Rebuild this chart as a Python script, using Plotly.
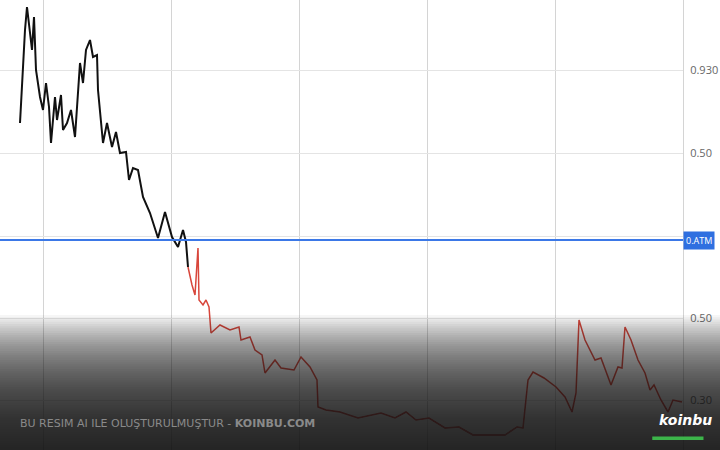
import plotly.graph_objects as go

# price history, black = before crossing, red = after
black_x = [20, 23, 25, 27, 29, 32, 34, 36, 40, 43, 46, 49, 51, 55, 57, 61, 63, 67, 71, 75,
           80, 83, 86, 90, 93, 97, 98, 103, 107, 112, 116, 120, 126, 129, 133, 138, 143, 150,
           158, 165, 172, 178, 183, 186, 188]
black_y = [3.27, 3.83, 4.20, 4.43, 4.23, 4.00, 4.33, 3.80, 3.53, 3.40, 3.67, 3.43, 3.07, 3.53,
           3.30, 3.55, 3.20, 3.27, 3.40, 3.13, 3.87, 3.67, 4.00, 4.10, 3.93, 3.95, 3.60, 3.07,
           3.27, 3.03, 3.18, 2.97, 2.98, 2.70, 2.82, 2.80, 2.53, 2.37, 2.12, 2.38, 2.13, 2.03,
           2.20, 2.08, 1.83]
red_x = [188, 192, 195, 198, 199, 203, 206, 209, 211, 220, 230, 239, 241, 250, 255, 262, 265,
         275, 281, 294, 301, 310, 317, 318, 326, 340, 358, 381, 395, 406, 416, 429, 445, 459,
         473, 505, 517, 523, 528, 533, 544, 556, 565, 572, 576, 579, 585, 595, 601, 611, 618,
         622, 625, 631, 638, 645, 650, 654, 661, 668, 673, 682]
red_y = [1.83, 1.65, 1.55, 2.02, 1.50, 1.45, 1.50, 1.43, 1.17, 1.25, 1.20, 1.23, 1.10, 1.13,
         1.00, 0.95, 0.77, 0.90, 0.82, 0.80, 0.93, 0.83, 0.70, 0.43, 0.40, 0.38, 0.32, 0.37,
         0.32, 0.38, 0.30, 0.32, 0.22, 0.23, 0.15, 0.15, 0.23, 0.22, 0.70, 0.78, 0.72, 0.63,
         0.53, 0.38, 0.57, 1.30, 1.10, 0.90, 0.92, 0.65, 0.83, 0.82, 1.23, 1.10, 0.90, 0.77,
         0.60, 0.65, 0.50, 0.38, 0.50, 0.48]

y_ticks = [3.80, 2.97, 1.32, 0.50]
y_ticktext = ['0.930', '0.50', '0.50', '0.30']
x_grid = [43, 171, 299, 427, 555]
level = 2.10
level_text = '0.ATM'

fig = go.Figure()
fig.add_trace(go.Scatter(x=black_x, y=black_y, mode='lines',
                         line=dict(color='#111111', width=2)))
fig.add_trace(go.Scatter(x=red_x, y=red_y, mode='lines',
                         line=dict(color='#d8463b', width=1.5)))

fig.add_hline(y=level, line=dict(color='#3b78e7', width=2))
fig.add_annotation(x=1, xref='paper', y=level, text=level_text, showarrow=False,
                   xanchor='left', bgcolor='#2f6fe0', font=dict(color='white', size=9),
                   borderpad=2)

# dark fade at the bottom: overlapping rects all starting at the bottom edge
n = 60
for i in range(n):
    fig.add_shape(type='rect', xref='paper', yref='paper', x0=-0.1, x1=1.2,
                  y0=-0.01, y1=0.30 * (i + 1) / n, line_width=0,
                  fillcolor='#1c1c1c', opacity=0.038, layer='above')

fig.add_annotation(x=18, xref='x', y=0.04, yref='paper', xanchor='left',
                   text='BU RESIM AI ILE OLUŞTURULMUŞTUR - <b>KOINBU.COM</b>',
                   showarrow=False, font=dict(color='#8a8a8a', size=11, family='DejaVu Sans'))
fig.add_annotation(x=1.045, xref='paper', y=0.045, yref='paper', xanchor='right',
                   text='<b><i>koinbu</i></b>', showarrow=False,
                   font=dict(color='white', size=14, family='DejaVu Sans'))
fig.add_shape(type='rect', xref='paper', yref='paper', x0=0.955, x1=1.03, y0=0.022, y1=0.03,
              fillcolor='#3cb54a', line_width=0)

fig.update_layout(
    width=720, height=450, margin=dict(l=0, r=37, t=0, b=0, autoexpand=False),
    plot_bgcolor='white', paper_bgcolor='white', showlegend=False,
    xaxis=dict(range=[0, 683], tickvals=x_grid, showticklabels=False, showgrid=True,
               gridcolor='#d4d4d4', zeroline=False, showline=True, mirror=False,
               linecolor='#d4d4d4'),
    yaxis=dict(range=[0, 4.5], side='right', tickvals=y_ticks + [2.14],
               ticktext=y_ticktext + [''], showgrid=True, gridcolor='#e4e4e4',
               zeroline=False, showline=True, linecolor='#d4d4d4', automargin=False,
               tickfont=dict(color='#666666', size=11), ticklabelstandoff=4),
)

fig.write_html("out.html", config={'displayModeBar': False},
               post_script="document.body.style.margin='0';")
